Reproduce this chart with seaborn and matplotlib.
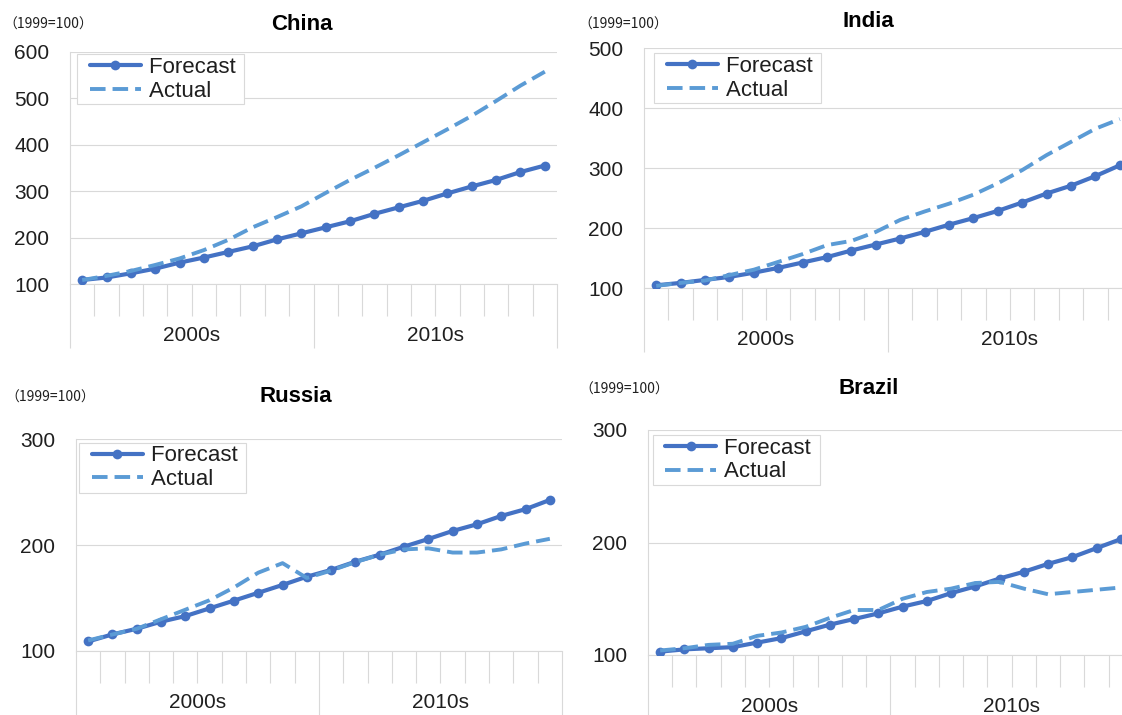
import numpy as np
import pandas as pd
import matplotlib
matplotlib.use("Agg")
import matplotlib.pyplot as plt
from matplotlib.lines import Line2D
from matplotlib.legend_handler import HandlerLine2D
from matplotlib.ticker import NullLocator
import seaborn as sns

# ---------------- data ----------------
years = [2000, 2001, 2002, 2003, 2004, 2005, 2006, 2007, 2008, 2009,
         2010, 2011, 2012, 2013, 2014, 2015, 2016, 2017, 2018, 2019]
decade_labels = ["2000s", "2010s"]
unit_label = "（1999=100）"
series_labels = ["Forecast", "Actual"]

china_forecast = [108.6, 114, 123, 133, 146, 157, 169, 181, 196, 209,
                  222, 235, 251, 265, 279, 295, 310, 324, 341, 355]
china_actual = [108.5, 117.5, 128, 141, 155, 173, 195, 222, 244, 267,
                296, 324, 350, 377, 405, 433, 462, 494, 527, 557]

india_forecast = [105, 109, 114, 119, 126, 134, 143, 152, 163, 173,
                  183, 194, 206, 217, 229, 243, 258, 271, 287, 305]
india_actual = [104, 109, 113, 122, 131, 144, 157, 172, 179, 194,
                214, 228, 241, 256, 275, 297, 322, 344, 366, 382]

russia_forecast = [109, 115.7, 121, 127.7, 133, 140.3, 147.6, 155, 162.4, 170.2,
                   176.6, 184.4, 191, 198.6, 205.8, 213.4, 219.7, 227.6, 234, 242.7]
russia_actual = [110, 115.6, 121, 130, 139, 148, 160, 174, 183, 169,
                 176, 184, 191, 196, 197, 193, 193, 196, 201.5, 206]

brazil_forecast = [103, 105, 106, 107, 111, 115, 121, 127, 132, 137,
                   143, 148, 155, 161, 168, 174, 181, 187, 195, 203]
brazil_actual = [104, 106, 109, 110, 117, 120, 125, 133, 140, 140,
                 150, 156, 159, 164, 165, 159, 154, 156, 158, 160]

countries = ["China", "India", "Russia", "Brazil"]
y_max = [600, 500, 300, 300]

# ---------------- style ----------------
sns.set_style("white")
plt.rcParams["font.family"] = ["Liberation Sans", "DejaVu Sans"]

FC_COLOR = "#4472C4"
AC_COLOR = "#5B9BD5"
GRID = "#D9D9D9"
TXT = "#1f1f1f"

W, H = 1122, 715
fig = plt.figure(figsize=(W / 100, H / 100), dpi=100)

# layout (pixels): axes box (left, right, top, bottom), title centre, unit label anchor, legend top-left
layout = [
    dict(box=(70, 557, 51.7, 284), title=(302, 25), unit=(3, 25), leg=(77, 54.3)),
    dict(box=(644, 1132, 48.3, 288.3), title=(868, 21.5), unit=(578, 25), leg=(654, 53.3)),
    dict(box=(76, 562, 439.3, 651), title=(296, 397), unit=(5, 398), leg=(79, 442.7)),
    dict(box=(648, 1133, 430, 655), title=(869, 388), unit=(579, 390), leg=(652.7, 435)),
]
data = [(china_forecast, china_actual), (india_forecast, india_actual),
        (russia_forecast, russia_actual), (brazil_forecast, brazil_actual)]


class OffsetLineHandler(HandlerLine2D):
    """Legend line handle that starts a little right of the frame edge."""

    def __init__(self, offset, **kw):
        super().__init__(**kw)
        self.offset = offset

    def get_xdata(self, legend, xdescent, ydescent, width, height, fontsize):
        x0 = -xdescent + self.offset
        x1 = -xdescent + width
        return np.array([x0, x1]), np.array([(x0 + x1) / 2])


for name, ymax, lay, (fc, ac) in zip(countries, y_max, layout, data):
    L, R, T, B = lay["box"]
    ax = fig.add_axes([L / W, 1 - B / H, (R - L) / W, (B - T) / H])
    df = pd.DataFrame({"year": years, series_labels[0]: fc, series_labels[1]: ac})

    sns.lineplot(data=df, x="year", y=series_labels[0], ax=ax, color=FC_COLOR,
                 lw=3.0, marker="o", markersize=7, markeredgewidth=0,
                 markeredgecolor=FC_COLOR, solid_capstyle="round", zorder=3)
    sns.lineplot(data=df, x="year", y=series_labels[1], ax=ax, color=AC_COLOR,
                 lw=2.8, linestyle=(0, (4, 1.8)), dash_capstyle="butt", zorder=4)
    lines = ax.get_lines()
    l_f, l_a = lines[0], lines[1]

    ax.set_xlim(years[0] - 0.5, years[-1] + 0.5)
    ax.set_ylim(100, ymax)
    ax.set_yticks(np.arange(100, ymax + 1, 100))
    ax.set_xlabel("")
    ax.set_ylabel("")
    ax.grid(axis="y", color=GRID, lw=0.8)
    ax.grid(axis="x", visible=False)
    ax.set_axisbelow(True)
    for s in ["top", "right"]:
        ax.spines[s].set_visible(False)
    for s in ["left", "bottom"]:
        ax.spines[s].set_color(GRID)
        ax.spines[s].set_linewidth(0.8)

    ax.tick_params(axis="y", left=False, length=0, pad=15, labelsize=15, labelcolor=TXT)
    # category boundaries
    ax.set_xticks([years[0] - 0.5, years[9] + 0.5, years[-1] + 0.5])
    ax.set_xticks([y + 0.5 for y in years[:-1] if y != years[9]], minor=True)
    ax.tick_params(axis="x", which="both", bottom=True, labelbottom=False, color=GRID, width=0.8)
    ax.tick_params(axis="x", which="major", length=46)
    ax.tick_params(axis="x", which="minor", length=23)

    sec = ax.secondary_xaxis("bottom")
    sec.set_xticks([(years[0] + years[9]) / 2, (years[10] + years[19]) / 2], labels=decade_labels)
    sec.xaxis.set_minor_locator(NullLocator())
    sec.tick_params(axis="x", which="both", bottom=True, length=0, pad=30, labelsize=15, labelcolor=TXT)
    sec.spines["bottom"].set_visible(False)

    lx, ly = lay["leg"]
    leg = ax.legend([l_f, l_a], [lab + " " for lab in series_labels], loc="upper left",
                    bbox_to_anchor=(lx / W, 1 - ly / H), bbox_transform=fig.transFigure,
                    borderaxespad=0, frameon=True, fancybox=False, edgecolor=GRID,
                    framealpha=1, fontsize=16, handlelength=2.75, handletextpad=0.35,
                    labelspacing=0.12, borderpad=0.12,
                    handler_map={Line2D: OffsetLineHandler(7.2)})
    leg.get_frame().set_linewidth(0.8)
    for t in leg.get_texts():
        t.set_color(TXT)

    tx, ty = lay["title"]
    fig.text(tx / W, 1 - ty / H, name, ha="center", va="center", fontsize=16,
             fontweight="bold", color="black")
    ux, uy = lay["unit"]
    fig.text(ux / W, 1 - uy / H, unit_label, ha="left", va="center", fontsize=10,
             family=["Noto Sans CJK JP", "DejaVu Sans"], color=TXT)

fig.savefig("out.png", dpi=100)
